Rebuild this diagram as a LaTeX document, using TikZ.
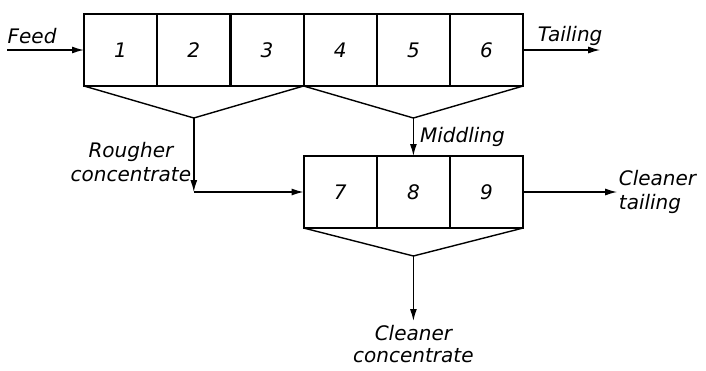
\documentclass[tikz,border=0pt]{standalone}
\usepackage{fontspec}
\setmainfont{DejaVu Sans}
\usetikzlibrary{arrows.meta,positioning,calc}

\begin{document}
\begin{tikzpicture}[x=1pt,y=1pt,node distance=0pt and 0pt,
  every node/.style={font=\fontsize{20}{24}\selectfont\itshape,align=center},
  cell/.style={draw,line width=2.2pt,outer sep=0pt,inner sep=0pt,minimum width=73.2pt,minimum height=72pt},
  flow/.style={-{Latex[length=12pt,width=7pt]},line width=1.4pt},
  hopper/.style={line width=1.4pt}]
\useasboundingbox (0,0) rectangle (706,-370);
% rougher bank
\node[cell] (c1) at (120.6,-50) {1};
\node[cell,right=of c1] (c2) {2};
\node[cell,right=of c2] (c3) {3};
\node[cell,right=of c3] (c4) {4};
\node[cell,right=of c4] (c5) {5};
\node[cell,right=of c5] (c6) {6};
% cleaner bank
\node[cell,below=70pt of c4] (c7) {7};
\node[cell,right=of c7] (c8) {8};
\node[cell,right=of c8] (c9) {9};
\coordinate (r1) at ($(c1.south west)!.5!(c4.south west)+(0,-32)$);
\coordinate (r2) at ($(c4.south west)!.5!(c6.south east)+(0,-32)$);
\coordinate (cl) at ($(c7.south west)!.5!(c9.south east)+(0,-28)$);
\coordinate (bend) at (r1 |- c7.west);
\coordinate (feedin) at ($(c1.west)+(-77,0)$);
\coordinate (tailout) at ($(c6.east)+(77,0)$);
\coordinate (ctailout) at ($(c9.east)+(94,0)$);
\coordinate (cconout) at ($(cl)+(0,-65)$);
\draw[hopper] (c1.south west) -- (r1) -- (c4.south west) -- (r2) -- (c6.south east);
\draw[hopper] (c7.south west) -- (cl) -- (c9.south east);
\draw[flow] (feedin) node[above right=6pt and 0pt,inner sep=0pt]{Feed} -- (c1.west);
\draw[flow] (c6.east) -- node[above,pos=.61]{Tailing} (tailout);
\draw[flow] (r1) -- node[pos=.6,left,inner sep=2pt]{Rougher\\concentrate} (bend);
\draw[flow] (bend) -- (c7.west);
\draw[flow] (r2) -- node[right,inner sep=6pt]{Middling} (r2 |- c8.north);
\draw[flow] (c9.east) -- (ctailout) node[right,align=left,inner sep=1pt]{Cleaner\\tailing};
\draw[flow] (cl) -- (cconout) node[below=4pt,inner sep=0pt,font=\fontsize{20}{22}\selectfont\itshape]{Cleaner\\concentrate};
\end{tikzpicture}
\end{document}
